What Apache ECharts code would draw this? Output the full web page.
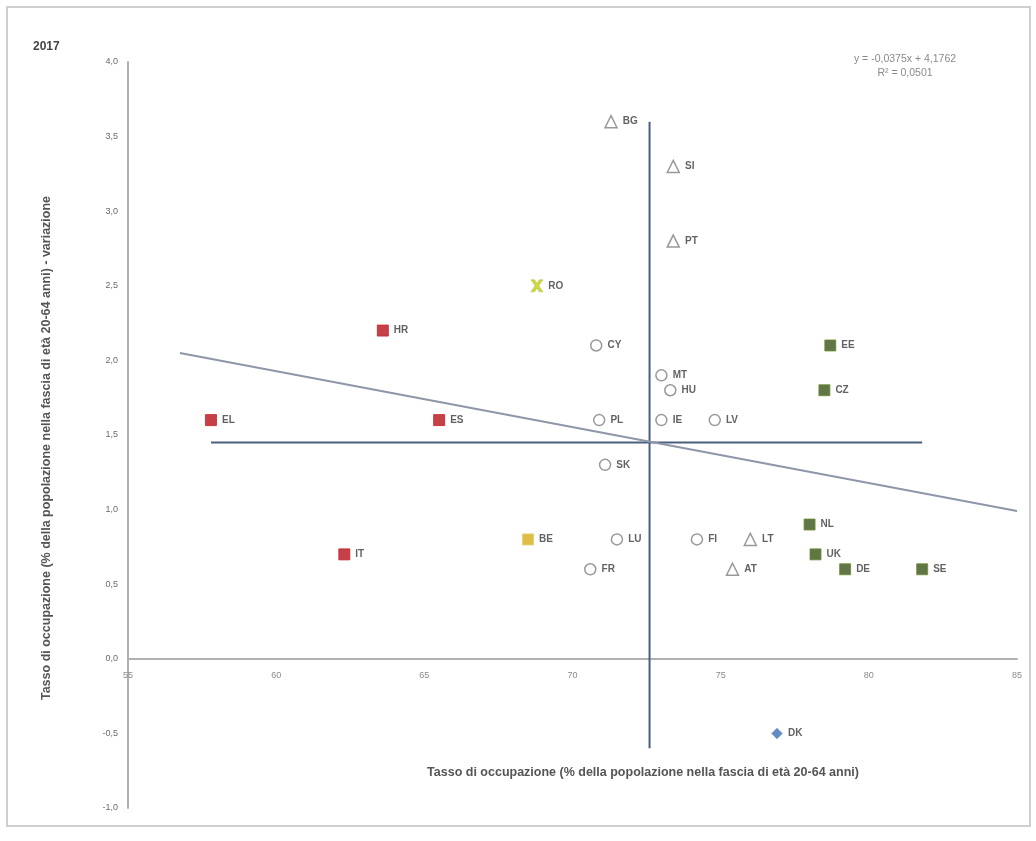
<!DOCTYPE html>
<html><head><meta charset="utf-8">
<script src="https://cdn.jsdelivr.net/npm/echarts@6/dist/echarts.min.js"></script>
<style>html,body{margin:0;padding:0;background:#fff}#c{width:1036px;height:841px}</style>
</head><body><div id="c"></div>
<script>
// x: tasso di occupazione 2017 (%), y: variazione
const xTicks = [55, 60, 65, 70, 75, 80, 85];
const yTicks = [-1, -0.5, 0, 0.5, 1, 1.5, 2, 2.5, 3, 3.5, 4];

const triCodes = ['BG', 'SI', 'PT', 'LT', 'AT'];
const triX = [71.3, 73.4, 73.4, 76.0, 75.4];
const triY = [3.6, 3.3, 2.8, 0.8, 0.6];

const circCodes = ['CY', 'MT', 'HU', 'PL', 'IE', 'LV', 'SK', 'LU', 'FI', 'FR'];
const circX = [70.8, 73.0, 73.3, 70.9, 73.0, 74.8, 71.1, 71.5, 74.2, 70.6];
const circY = [2.1, 1.9, 1.8, 1.6, 1.6, 1.6, 1.3, 0.8, 0.8, 0.6];

const redCodes = ['HR', 'EL', 'ES', 'IT'];
const redX = [63.6, 57.8, 65.5, 62.3];
const redY = [2.2, 1.6, 1.6, 0.7];

const greenCodes = ['EE', 'CZ', 'NL', 'UK', 'DE', 'SE'];
const greenX = [78.7, 78.5, 78.0, 78.2, 79.2, 81.8];
const greenY = [2.1, 1.8, 0.9, 0.7, 0.6, 0.6];

const yellowCodes = ['BE'];
const yellowX = [68.5];
const yellowY = [0.8];

const crossCodes = ['RO'];
const crossX = [68.8];
const crossY = [2.5];

const diamondCodes = ['DK'];
const diamondX = [76.9];
const diamondY = [-0.5];

// reference lines (EU averages) and linear trend
const avgEmployment = 72.6;
const avgChange = 1.45;
const vLineY = [3.6, -0.6];
const hLineX = [57.8, 81.8];
const trendX = [56.75, 85];
const trendY = [2.05, 0.99];

const trendEq = 'y = -0,0375x + 4,1762';
const trendR2 = 'R² = 0,0501';
const yearLabel = '2017';
const xName = 'Tasso di occupazione (% della popolazione nella fascia di età 20-64 anni)';
const yName = 'Tasso di occupazione (% della popolazione nella fascia di età 20-64 anni) - variazione';

function pts(codes, xs, ys) {
  return codes.map((c, i) => ({ name: c, value: [xs[i], ys[i]] }));
}
const labelCfg = {
  show: true, position: 'right', distance: 5,
  formatter: p => p.name, color: '#3a3a3a', fontSize: 10, fontWeight: 'bold',
  fontFamily: 'Liberation Sans'
};
function scatter(codes, xs, ys, symbol, size, style) {
  return {
    type: 'scatter', data: pts(codes, xs, ys), symbol: symbol, symbolSize: size,
    itemStyle: style, label: labelCfg, z: 5, silent: true
  };
}

const chart = echarts.init(document.getElementById('c'), null, { renderer: 'canvas' });
chart.setOption({
  animation: false,
  backgroundColor: '#ffffff',
  grid: { left: 128, right: 19, top: 62, bottom: 33 },
  xAxis: {
    type: 'value', min: xTicks[0], max: xTicks[xTicks.length - 1], interval: 5,
    offset: -149,
    axisLine: { onZero: false, lineStyle: { color: '#b0b0b0', width: 2 } },
    axisTick: { show: false }, splitLine: { show: false },
    axisLabel: { color: '#8a8a8a', fontSize: 9, margin: 12, fontFamily: 'Liberation Sans' }
  },
  yAxis: {
    type: 'value', min: yTicks[0], max: yTicks[yTicks.length - 1], interval: 0.5,
    axisLine: { show: true, onZero: false, lineStyle: { color: '#b0b0b0', width: 2 } },
    axisTick: { show: false }, splitLine: { show: false },
    axisLabel: {
      color: '#6a6a6a', fontSize: 9, margin: 10, fontFamily: 'Liberation Sans',
      formatter: v => v.toFixed(1).replace('.', ',')
    }
  },
  graphic: [
    { type: 'rect', shape: { x: 7, y: 7, width: 1023, height: 819 },
      style: { fill: 'none', stroke: '#cfcfcf', lineWidth: 2 }, silent: true },
    { type: 'text', x: 33, y: 41, style: { text: yearLabel, fontSize: 12, fontWeight: 'bold',
      fill: '#444', fontFamily: 'Liberation Sans' } },
    { type: 'text', x: 905, y: 52, style: { text: trendEq + '\n' + trendR2, fontSize: 10.5,
      fill: '#8a8a8a', align: 'center', lineHeight: 14, fontFamily: 'Liberation Sans' } },
    { type: 'text', x: 643, y: 773, style: { text: xName, fontSize: 12.5, fontWeight: 'bold',
      fill: '#555', align: 'center', verticalAlign: 'middle', fontFamily: 'Liberation Sans' } },
    { type: 'text', x: 47, y: 448, rotation: Math.PI / 2, style: { text: yName, fontSize: 12.5,
      fontWeight: 'bold', fill: '#555', align: 'center', verticalAlign: 'middle',
      fontFamily: 'Liberation Sans' } }
  ],
  series: [
    { type: 'line', data: [[avgEmployment, vLineY[0]], [avgEmployment, vLineY[1]]],
      symbol: 'none', lineStyle: { color: '#4a5f7e', width: 2 }, z: 2, silent: true },
    { type: 'line', data: [[hLineX[0], avgChange], [hLineX[1], avgChange]],
      symbol: 'none', lineStyle: { color: '#4a5f7e', width: 2 }, z: 2, silent: true },
    { type: 'line', data: [[trendX[0], trendY[0]], [trendX[1], trendY[1]]],
      symbol: 'none', lineStyle: { color: '#8d97a8', width: 2 }, z: 2, silent: true },
    scatter(triCodes, triX, triY, 'triangle', 12,
      { color: '#ffffff', borderColor: '#7f7f7f', borderWidth: 1.5 }),
    scatter(circCodes, circX, circY, 'circle', 11,
      { color: '#ffffff', borderColor: '#7f7f7f', borderWidth: 1.5 }),
    scatter(redCodes, redX, redY, 'rect', 11,
      { color: '#b8101a', borderColor: '#c8202a', borderWidth: 1 }),
    scatter(greenCodes, greenX, greenY, 'rect', 11,
      { color: '#3a5418', borderColor: '#6f8c34', borderWidth: 1 }),
    scatter(yellowCodes, yellowX, yellowY, 'rect', 11,
      { color: '#d4ae18', borderColor: '#e6cc66', borderWidth: 1 }),
    scatter(crossCodes, crossX, crossY,
      'path://M0,0 L3,0 L5,3 L7,0 L10,0 L6.5,5 L10,10 L7,10 L5,7 L3,10 L0,10 L3.5,5 Z', 12,
      { color: '#c2cf14', borderColor: '#9aa510', borderWidth: 0.5 }),
    scatter(diamondCodes, diamondX, diamondY, 'diamond', 11,
      { color: '#3d6fb0', borderColor: '#8fb2dc', borderWidth: 1 })
  ]
});
</script>
</body></html>
